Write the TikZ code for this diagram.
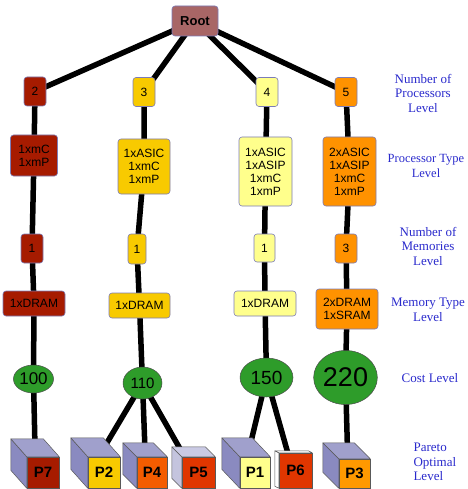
\documentclass[tikz,border=0pt]{standalone}
\usepackage{fontspec}
\setmainfont{Liberation Serif}
\setsansfont{Liberation Sans}
\usetikzlibrary{shapes.geometric,calc,backgrounds}
\definecolor{cRed}{HTML}{A61B00}
\definecolor{cYel}{HTML}{F8CA00}
\definecolor{cLight}{HTML}{FFFF8C}
\definecolor{cOrg}{HTML}{FF9200}
\definecolor{cRoot}{HTML}{A86666}
\definecolor{cGreen}{HTML}{2E9C2A}
\definecolor{cBorder}{HTML}{7C7CB8}
\definecolor{cLabel}{HTML}{2A2ACC}
\definecolor{cSide}{HTML}{8A8AC0}
\definecolor{cTop}{HTML}{A0A0CC}
\definecolor{cSideL}{HTML}{C4C4DE}
\definecolor{cTopL}{HTML}{CACAE4}
\definecolor{cPfour}{HTML}{F45C00}
\definecolor{cPfive}{HTML}{E03600}
\definecolor{cPthree}{HTML}{FF9900}
\newcommand{\cubefaces}[5]{%
  \filldraw[fill=#4, draw=black!65, line width=0.5pt, line join=round]
    (#1.north west) -- ++(#2,#3) -- ($(#1.south west)+(#2,#3)$) -- (#1.south west) -- cycle;
  \filldraw[fill=#5, draw=black!65, line width=0.5pt, line join=round]
    (#1.north west) -- ++(#2,#3) -- ($(#1.north east)+(#2,#3)$) -- (#1.north east) -- cycle;
}
\begin{document}
\begin{tikzpicture}[x=1pt,y=-1pt,
  box/.style={draw=cBorder, line width=0.6pt, rounded corners=3pt, inner sep=0pt, align=center,
    font=\sffamily\fontsize{12}{13}\selectfont},
  link/.style={line width=5.5pt, black, line cap=round},
  cost/.style={ellipse, draw=black!70, line width=0.5pt, fill=cGreen, inner sep=0pt},
  lvl/.style={text=cLabel, font=\fontsize{13}{14.5}\selectfont, align=center},
  face/.style={draw=black!65, line width=0.5pt, inner sep=0pt,
    font=\sffamily\bfseries\fontsize{15}{15}\selectfont, text=black},
]
\useasboundingbox (0,0) rectangle (467,489);

% root
\node[box, fill=cRoot, minimum width=46, minimum height=30,
  font=\sffamily\bfseries\fontsize{13}{13}\selectfont] (root) at (195,21) {Root};

% number of processors
\node[box, fill=cRed, minimum width=22, minimum height=29] (n2) at (35,91.5) {2};
\node[box, fill=cYel, minimum width=22, minimum height=29] (n3) at (144,92) {3};
\node[box, fill=cLight, minimum width=22, minimum height=29] (n4) at (267,92) {4};
\node[box, fill=cOrg, minimum width=22, minimum height=29] (n5) at (346,92) {5};

% processor type
\node[box, fill=cRed, minimum width=47, minimum height=41] (t2) at (34,155.5) {1xmC\\1xmP};
\node[box, fill=cYel, minimum width=52, minimum height=55] (t3) at (144,166.5) {1xASIC\\1xmC\\1xmP};
\node[box, fill=cLight, minimum width=53, minimum height=69] (t4) at (265.5,171.5) {1xASIC\\1xASIP\\1xmC\\1xmP};
\node[box, fill=cOrg, minimum width=53, minimum height=69] (t5) at (349.5,171.5) {2xASIC\\1xASIP\\1xmC\\1xmP};

% number of memories
\node[box, fill=cRed, minimum width=22, minimum height=29] (m2) at (32,248.5) {1};
\node[box, fill=cYel, minimum width=18, minimum height=30] (m3) at (137,249) {1};
\node[box, fill=cLight, minimum width=21, minimum height=28] (m4) at (264.5,248) {1};
\node[box, fill=cOrg, minimum width=22, minimum height=29] (m5) at (346,248.5) {3};

% memory type
\node[box, fill=cRed, minimum width=62, minimum height=25] (d2) at (34,303.5) {1xDRAM};
\node[box, fill=cYel, minimum width=61, minimum height=25] (d3) at (139.5,305.5) {1xDRAM};
\node[box, fill=cLight, minimum width=62, minimum height=25] (d4) at (265,303.5) {1xDRAM};
\node[box, fill=cOrg, minimum width=62, minimum height=40] (d5) at (347,309) {2xDRAM\\1xSRAM};

% cost
\node[cost, minimum width=39, minimum height=28, font=\sffamily\fontsize{17}{17}\selectfont] (c2) at (33.5,379) {100};
\node[cost, minimum width=39, minimum height=32, font=\sffamily\fontsize{15}{15}\selectfont] (c3) at (142.5,383) {110};
\node[cost, minimum width=53, minimum height=39, font=\sffamily\fontsize{19}{19}\selectfont] (c4) at (266.5,377.5) {150};
\node[cost, minimum width=63, minimum height=54, font=\sffamily\fontsize{27}{27}\selectfont] (c5) at (345.5,377.5) {220};

% pareto optimal cubes (front faces)
\node[face, fill=cRed, minimum width=32, minimum height=31] (p7) at (43,472.5) {P7};
\node[face, fill=cYel, minimum width=32, minimum height=31] (p2) at (104,472.5) {P2};
\node[face, fill=cPfour, minimum width=30, minimum height=31] (p4) at (152,472.5) {P4};
\node[face, fill=cPfive, minimum width=33, minimum height=31] (p5) at (198.5,472.5) {P5};
\node[face, fill=cLight, minimum width=30, minimum height=31] (p1) at (255,472.5) {P1};
\node[face, fill=cPfive, minimum width=33, minimum height=35] (p6) at (295.5,470.5) {P6};
\node[face, fill=cPthree, minimum width=31, minimum height=29] (p3) at (354.5,473.5) {P3};

\cubefaces{p7}{-16}{-18}{cSide}{cTop}
\cubefaces{p2}{-17}{-19}{cSide}{cTop}
\cubefaces{p4}{-14}{-14}{cSide}{cTop}
\cubefaces{p5}{-10}{-10}{cSideL}{cTopL}
\cubefaces{p1}{-18}{-19}{cSide}{cTop}
\cubefaces{p6}{-4}{-2}{white}{white}
\cubefaces{p3}{-16}{-16}{cSide}{cTop}

% level labels
\node[lvl] (l1) at (423,93) {Number of\\Processors\\Level};
\node[lvl, font=\fontsize{12.5}{14.5}\selectfont] (l2) at (426,166) {Processor Type\\Level};
\node[lvl] (l3) at (428,246) {Number of\\Memories\\Level};
\node[lvl] (l4) at (428,310) {Memory Type\\Level};
\node[lvl] (l5) at (430,378) {Cost Level};
\node[lvl, align=left, anchor=west] (l6) at (410,462) {Pareto\\Optimal\\Level};

% connectors
\begin{pgfonlayer}{background}
\draw[link] (root.center) -- (n2.center);
\draw[link] (root.center) -- (n3.center);
\draw[link] (root.center) -- (n4.center);
\draw[link] (root.center) -- (n5.center);
\draw[link] (n2.center) -- (t2.center) -- (m2.center) -- (d2.center) -- (c2.center);
\draw[link] (n3.center) -- (t3.center) -- (m3.center) -- (d3.center) -- (c3.center);
\draw[link] (n4.center) -- (t4.center) -- (m4.center) -- (d4.center) -- (c4.center);
\draw[link] (n5.center) -- (t5.center) -- (m5.center) -- (d5.center) -- (c5.center);
\draw[link] (c2.center) -- ($(p7.north)+(-8,-9)$);
\draw[link] (c3.center) -- ($(p2.north)+(0,-9)$);
\draw[link] (c3.center) -- ($(p4.north)+(-7,-7)$);
\draw[link] (c3.center) -- ($(p5.north west)+(0,-5)$);
\draw[link] (c4.center) -- ($(p1.north west)+(10,-10)$);
\draw[link] (c4.center) -- ($(p6.north west)+(9,0)$);
\draw[link] (c5.center) -- ($(p3.north)+(-7,-8)$);
\end{pgfonlayer}
\end{tikzpicture}
\end{document}
